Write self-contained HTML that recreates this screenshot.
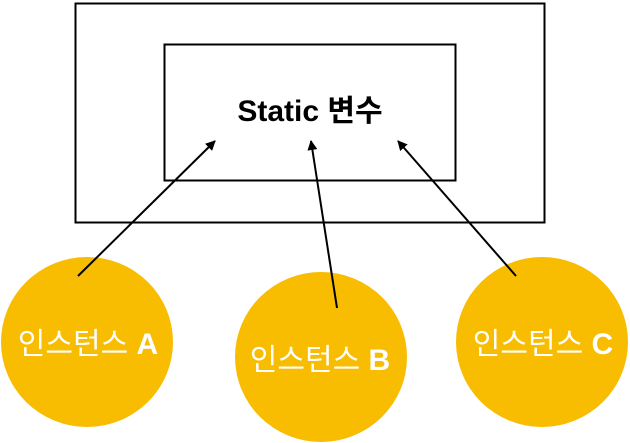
<!DOCTYPE html>
<html><head><meta charset="utf-8"><style>
html,body{margin:0;padding:0;background:#fff;}
svg{display:block;}
text{font-family:"Liberation Sans","Noto Sans CJK KR",sans-serif;}
</style></head><body>
<svg width="630" height="443" viewBox="0 0 630 443">
<defs><marker id="ah" markerWidth="10" markerHeight="10" refX="9" refY="5" orient="auto" markerUnits="userSpaceOnUse"><path d="M0,0 L10,5 L0,10 z" fill="#000"/></marker></defs>
<rect x="75.5" y="3.5" width="469" height="219" fill="none" stroke="#000" stroke-width="2"/>
<rect x="164.5" y="44.5" width="291" height="136" fill="none" stroke="#000" stroke-width="2"/>
<text x="310" y="121" text-anchor="middle" font-size="30" font-weight="bold" fill="#000">Static 변수</text>
<ellipse cx="87" cy="342" rx="86" ry="85" fill="#F8BC00"/>
<ellipse cx="321" cy="357" rx="86" ry="85" fill="#F8BC00"/>
<ellipse cx="542" cy="342" rx="86" ry="85" fill="#F8BC00"/>
<line x1="78" y1="276" x2="215" y2="141" stroke="#000" stroke-width="2" marker-end="url(#ah)"/>
<line x1="337" y1="308" x2="311" y2="141" stroke="#000" stroke-width="2" marker-end="url(#ah)"/>
<line x1="516" y1="276" x2="398" y2="141" stroke="#000" stroke-width="2" marker-end="url(#ah)"/>
<text x="88" y="354" text-anchor="middle" font-size="30" fill="#fff">인스턴스 <tspan font-weight="bold">A</tspan></text>
<text x="320" y="370" text-anchor="middle" font-size="30" fill="#fff">인스턴스 <tspan font-weight="bold">B</tspan></text>
<text x="543" y="354" text-anchor="middle" font-size="30" fill="#fff">인스턴스 <tspan font-weight="bold">C</tspan></text>
</svg>
</body></html>
